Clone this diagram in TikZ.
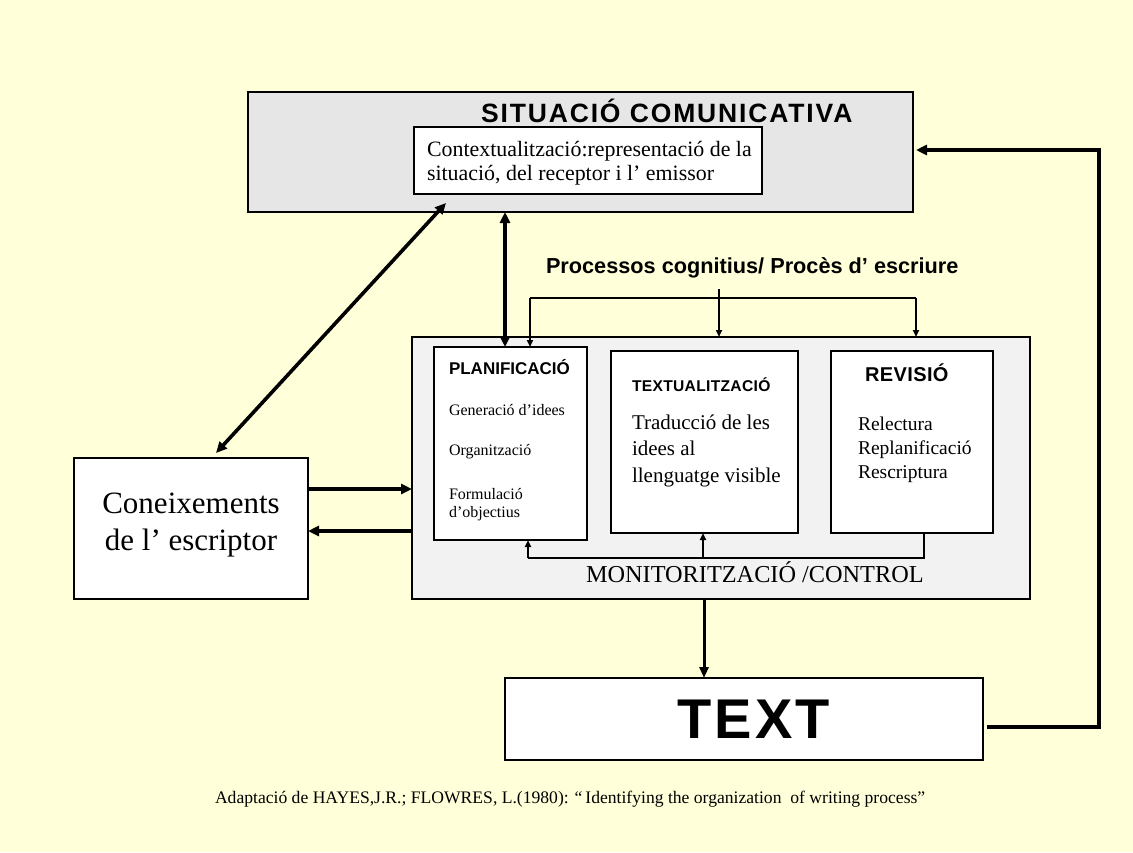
\documentclass[tikz,border=0pt]{standalone}
\usepackage{fontspec}
\setmainfont{Liberation Serif}
\newfontfamily\arialf{Liberation Sans}
\usetikzlibrary{arrows.meta,calc}
\definecolor{bgy}{RGB}{255,255,217}
\definecolor{grayA}{RGB}{230,230,230}
\definecolor{grayB}{RGB}{242,242,242}
\tikzset{
  box/.style={draw=black, line width=2.6pt, inner sep=0pt, outer sep=0pt},
  bigarrow/.style={line width=3.6pt, -{Triangle[length=11pt,width=10pt]}},
  bigdouble/.style={line width=3.6pt, {Triangle[length=11pt,width=10pt]}-{Triangle[length=11pt,width=10pt]}},
  smallarrow/.style={line width=1.8pt, -{Triangle[length=7pt,width=6pt]}},
  plainline/.style={line width=1.8pt},
  lbl/.style={inner sep=0pt, outer sep=0pt},
  sansb/.style={lbl, font=\arialf\bfseries},
}
\begin{document}
\begin{tikzpicture}[x=1pt,y=-1pt]
\fill[bgy] (0,0) rectangle (1133,852);
\useasboundingbox (0,0) rectangle (1133,852);

% boxes
\node[box, fill=grayA, minimum width=665pt, minimum height=120pt] (top) at (580.5,152) {};
\node[box, fill=white, line width=2pt, minimum width=348pt, minimum height=67pt] (ctx) at (588,160.5) {};
\node[box, fill=grayB, minimum width=618pt, minimum height=262pt] (mid) at (721,468) {};
\node[box, fill=white, minimum width=153pt, minimum height=193pt] (p1) at (510.5,443.5) {};
\node[box, fill=white, minimum width=187pt, minimum height=182pt] (p2) at (704.5,442) {};
\node[box, fill=white, minimum width=162pt, minimum height=182pt] (p3) at (912,442) {};
\node[box, fill=white, minimum width=234pt, minimum height=141pt] (con) at (191,528.5) {};
\node[box, fill=white, minimum width=478pt, minimum height=82pt] (txt) at (744,719) {};

% texts
\node[sansb, anchor=base west, font=\arialf\bfseries\fontsize{26.5}{30}\selectfont\addfontfeature{LetterSpace=7}] (ttop) at (481,122) {SITUACIÓ COMUNICATIVA};
\node[lbl, anchor=base west, font=\fontsize{21.9}{25}\selectfont] (tctx1) at (427,156) {Contextualització:representació de la};
\node[lbl, anchor=base west, font=\fontsize{21.9}{25}\selectfont] (tctx2) at (427,180) {situació, del receptor i l’ emissor};
\node[sansb, anchor=base west, font=\arialf\bfseries\fontsize{21.7}{25}\selectfont] (tproc) at (546,273) {Processos cognitius/ Procès d’ escriure};

\node[sansb, anchor=base west, font=\arialf\bfseries\fontsize{17}{20}\selectfont] (tp1) at (449,374) {PLANIFICACIÓ};
\node[lbl, anchor=base west, font=\fontsize{16}{19}\selectfont] (tp1a) at (449,415) {Generació d’idees};
\node[lbl, anchor=base west, font=\fontsize{16}{19}\selectfont] (tp1b) at (449,455) {Organització};
\node[lbl, anchor=base west, font=\fontsize{16}{19}\selectfont] (tp1c) at (449,499) {Formulació};
\node[lbl, anchor=base west, font=\fontsize{16}{19}\selectfont] (tp1d) at (449,517) {d’objectius};

\node[sansb, anchor=base west, font=\arialf\bfseries\fontsize{15.6}{18}\selectfont\addfontfeature{LetterSpace=2}] (tp2) at (632,391) {TEXTUALITZACIÓ};
\node[lbl, anchor=base west, font=\fontsize{21}{25}\selectfont] (tp2a) at (632,429) {Traducció de les};
\node[lbl, anchor=base west, font=\fontsize{21}{25}\selectfont] (tp2b) at (632,455) {idees al};
\node[lbl, anchor=base west, font=\fontsize{21}{25}\selectfont] (tp2c) at (632,482) {llenguatge visible};

\node[sansb, anchor=base west, font=\arialf\bfseries\fontsize{20}{23}\selectfont\addfontfeature{LetterSpace=2}] (tp3) at (865,381) {REVISIÓ};
\node[lbl, anchor=base west, font=\fontsize{19.5}{23}\selectfont] (tp3a) at (858,430) {Relectura};
\node[lbl, anchor=base west, font=\fontsize{19.5}{23}\selectfont] (tp3b) at (858,454) {Replanificació};
\node[lbl, anchor=base west, font=\fontsize{19.5}{23}\selectfont] (tp3c) at (858,478) {Rescriptura};

\node[lbl, anchor=base west, font=\fontsize{24.3}{28}\selectfont] (tmon) at (586,582) {MONITORITZACIÓ /CONTROL};

\node[lbl, anchor=base, font=\fontsize{31}{36}\selectfont] (tcon1) at (191,513) {Coneixements};
\node[lbl, anchor=base, font=\fontsize{31}{36}\selectfont] (tcon2) at (191,550) {de l’ escriptor};

\node[sansb, anchor=base west, font=\arialf\bfseries\fontsize{56}{60}\selectfont\addfontfeature{LetterSpace=6}] (ttxt) at (677,738) {TEXT};

\node[lbl, anchor=base west, font=\fontsize{17.6}{20}\selectfont] (tcap) at (215,803) {Adaptació de HAYES,J.R.; FLOWRES, L.(1980): “\,Identifying the organization \ of writing process”};

% helper coordinates
\coordinate (vx) at (505,0);
\coordinate (bl) at (530,298);
\coordinate (bc) at (719,289);
\coordinate (br) at (916,298);
\coordinate (ml) at (528,558);
\coordinate (mc) at (703,558);
\coordinate (mr) at (924,558);
\coordinate (dtop) at (446,203);
\coordinate (dbot) at (216,453);
\coordinate (fb1) at (987,727);
\coordinate (fb2) at (1099,727);
\coordinate (fb3) at (1099,150);
\coordinate (fb4) at (916,150);
\coordinate (tx) at (704,0);

% connectors
\draw[bigdouble] (dbot) -- (dtop);
\draw[bigdouble] (top.south -| vx) -- (p1.north -| vx);
\draw[plainline] (bl) -- (br);
\draw[smallarrow] (bl) -- (p1.north -| bl);
\draw[smallarrow] (br) -- (mid.north -| br);
\draw[smallarrow] (bc) -- (mid.north -| bc);
\draw[plainline] (p3.south -| mr) -- (mr) -- (ml);
\draw[smallarrow] (ml) -- (p1.south -| ml);
\draw[smallarrow] (mc) -- (p2.south -| mc);
\draw[bigarrow] (con.east |- 0,489) -- (mid.west |- 0,489);
\draw[bigarrow] (mid.west |- 0,531) -- (con.east |- 0,531);
\draw[line width=3pt, -{Triangle[length=11pt,width=9pt]}] (mid.south -| tx) -- (txt.north -| tx);
\draw[line width=3.6pt, -{Triangle[length=11pt,width=10pt]}] (fb1) -- (fb2) -- (fb3) -- (fb4);
\end{tikzpicture}
\end{document}
